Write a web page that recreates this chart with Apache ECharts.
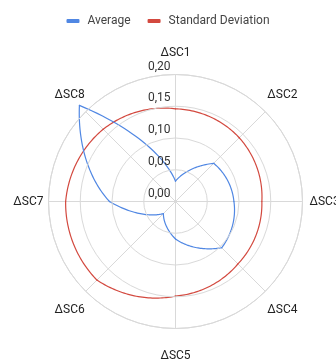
<!DOCTYPE html>
<html><head><meta charset="utf-8">
<script src="https://cdn.jsdelivr.net/npm/echarts@6/dist/echarts.min.js"></script>
<style>html,body{margin:0;padding:0;background:#fff}#c{width:336px;height:363px}</style>
</head><body><div id="c"></div>
<script>
const categories = ['ΔSC1', 'ΔSC2', 'ΔSC3', 'ΔSC4', 'ΔSC5', 'ΔSC6', 'ΔSC7', 'ΔSC8'];
const averageValues = [0.032, 0.085, 0.092, 0.103, 0.059, 0.027, 0.104, 0.214];
const stdValues = [0.146, 0.142, 0.136, 0.139, 0.149, 0.175, 0.173, 0.161];
const radiusTicks = [0, 0.05, 0.10, 0.15, 0.20];
const seriesNames = ['Average', 'Standard Deviation'];
const seriesColors = ['#5087e3', '#d3493f'];

const FONT = 'Roboto, "Noto Sans", sans-serif';
const gridColor = '#d9d9d9';

// per-label offsets so each category name sits centred outside the rim
const labelPads = [
  [0, 0, 16, 0], [0, 0, 11, 2], [0, 0, 0, 7], [13, 0, 0, 2],
  [21, 0, 0, 0], [13, 1, 0, 0], [0, 5, 0, 0], [0, 1, 11, 0]
];
const rich = {};
labelPads.forEach((p, i) => {
  rich['l' + i] = { fontFamily: FONT, fontSize: 12, color: '#222', padding: p };
});

function makeRender(values) {
  // draws the edge from this data point to the next one as a spiral in polar space
  return function (params, api) {
    const i = params.dataIndex;
    const n = values.length;
    const r0 = api.value(0), a0 = api.value(1);
    const r1 = values[(i + 1) % n], a1 = a0 + 1;
    const steps = 40;
    const pts = [];
    for (let s = 0; s <= steps; s++) {
      const t = s / steps;
      pts.push(api.coord([r0 * Math.pow(r1 / r0, t), a0 + (a1 - a0) * t]));
    }
    return {
      type: 'polyline',
      shape: { points: pts },
      style: { stroke: api.visual('color'), lineWidth: 1.2, fill: null, lineJoin: 'round', lineCap: 'round' }
    };
  };
}

const chart = echarts.init(document.getElementById('c'), null, { renderer: 'canvas' });
chart.setOption({
  animation: false,
  backgroundColor: '#fff',
  textStyle: { fontFamily: FONT },
  legend: {
    data: seriesNames,
    top: 10,
    left: 'center',
    icon: 'roundRect',
    itemWidth: 13,
    itemHeight: 4,
    itemGap: 17,
    textStyle: { fontFamily: FONT, fontSize: 12, color: '#444', padding: [0, 0, 0, 3] }
  },
  polar: { center: [175.5, 201.5], radius: 127 },
  angleAxis: {
    type: 'value',
    min: 0,
    max: categories.length,
    interval: 1,
    startAngle: 90,
    clockwise: true,
    axisLine: { show: true, lineStyle: { color: gridColor, width: 1 } },
    axisTick: { show: false },
    splitLine: { show: true, lineStyle: { color: gridColor, width: 1 } },
    axisLabel: {
      margin: 0,
      formatter: function (v) {
        const i = Math.round(v);
        if (i >= categories.length) return '';
        return '{l' + i + '|' + categories[i] + '}';
      },
      rich: rich
    }
  },
  radiusAxis: {
    type: 'value',
    min: radiusTicks[0],
    max: radiusTicks[radiusTicks.length - 1],
    interval: 0.05,
    axisLine: { show: false },
    axisTick: { show: false },
    splitLine: { show: true, lineStyle: { color: gridColor, width: 1 } },
    axisLabel: {
      margin: 5,
      align: 'right',
      verticalAlign: 'bottom',
      padding: [0, 0, 2, 0],
      fontFamily: FONT,
      fontSize: 12,
      color: '#333',
      formatter: function (v) { return v.toFixed(2).replace('.', ','); }
    },
    z: 5
  },
  series: [
    {
      name: seriesNames[0], type: 'custom', coordinateSystem: 'polar',
      itemStyle: { color: seriesColors[0] },
      data: averageValues.map((v, i) => [v, i]),
      renderItem: makeRender(averageValues), z: 3
    },
    {
      name: seriesNames[1], type: 'custom', coordinateSystem: 'polar',
      itemStyle: { color: seriesColors[1] },
      data: stdValues.map((v, i) => [v, i]),
      renderItem: makeRender(stdValues), z: 2
    }
  ]
});
</script>
</body></html>
